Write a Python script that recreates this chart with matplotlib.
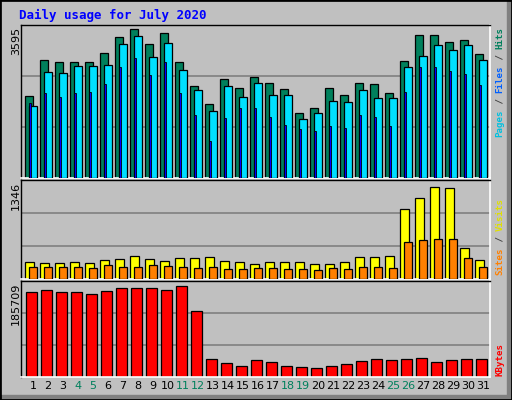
import matplotlib
matplotlib.use("Agg")
import matplotlib.pyplot as plt
from matplotlib.patches import Rectangle
import numpy as np

days = list(range(1, 32))
weekend = [4, 5, 11, 12, 18, 19, 25, 26]
hits = [1921, 2778, 2714, 2730, 2730, 2944, 3302, 3492, 3159, 3397, 2730, 2159, 1730, 2325, 2111,
        2373, 2230, 2087, 1539, 1635, 2111, 1944, 2230, 2206, 1992, 2754, 3349, 3349, 3206, 3254, 2921]
files = [1682, 2492, 2468, 2635, 2635, 2659, 3159, 3325, 2849, 3183, 2540, 2063, 1563, 2159, 1897,
         2230, 1944, 1944, 1397, 1516, 1801, 1777, 2063, 1873, 1873, 2611, 2873, 3135, 3016, 3135, 2778]
pages = [1754, 1992, 1897, 1992, 2016, 2206, 2611, 2825, 2421, 2730, 1992, 1492, 873, 1421, 1635,
         1635, 1444, 1254, 1159, 1111, 1230, 1182, 1492, 1444, 1230, 2016, 2611, 2611, 2516, 2445, 2183]
visits = [240, 227, 227, 240, 227, 268, 281, 322, 281, 254, 295, 295, 309, 254, 240,
          213, 240, 240, 240, 213, 213, 240, 309, 309, 322, 975, 1138, 1288, 1274, 431, 268]
sites = [172, 172, 172, 172, 159, 200, 172, 172, 200, 186, 172, 159, 172, 145, 145,
         159, 159, 145, 145, 132, 159, 145, 172, 172, 159, 512, 553, 567, 567, 295, 172]
kbytes = [166240, 170130, 166240, 166240, 162350, 168190, 174030, 174030, 174030, 170130, 178500,
          129250, 35820, 28030, 22190, 33870, 29980, 22190, 20240, 18300, 22190, 26080, 31920,
          35820, 33870, 35820, 37760, 29980, 33870, 35820, 35820]
max_hits, max_visits, max_kb = 3595, 1346, 185709

W, H = 512, 400
BG = "#C0C0C0"
fig = plt.figure(figsize=(W/100, H/100), dpi=100, facecolor=BG)

def px(x, y, w, h):
    return [x/W, 1-(y+h)/H, w/W, h/H]

fig.patches.append(Rectangle((1/W, 0), 1-2/W, 1-1/H, transform=fig.transFigure, fill=False, ec="white", lw=1.2))
fig.patches.append(Rectangle((0, 0), 1, 5/H, transform=fig.transFigure, color="#808080"))
fig.patches.append(Rectangle((1-5/W, 0), 5/W, 1, transform=fig.transFigure, color="#808080"))
fig.patches.append(Rectangle((0, 0), 1, 1, transform=fig.transFigure, fill=False, ec="black", lw=2))

x = np.array(days, dtype=float)
x0, x1 = 0.463, 0.463 + 469/15

def setup(ax, ymax):
    ax.set_facecolor(BG)
    ax.set_xlim(x0, x1)
    ax.set_ylim(0, ymax)
    ax.set_xticks([]); ax.set_yticks([])
    for y in (ymax/3, 2*ymax/3):
        ax.axhline(y, color="#808080", lw=1.2, zorder=0)
    for s in ("top", "left"):
        ax.spines[s].set_color("black"); ax.spines[s].set_linewidth(1)
    for s in ("bottom", "right"):
        ax.spines[s].set_color("white"); ax.spines[s].set_linewidth(1.2)

ax1 = fig.add_axes(px(21, 25, 469, 153))
setup(ax1, max_hits * 1.0)
ax1.bar(x - 0.27, hits, width=0.55, align="edge", color="#00805C", ec="black", lw=0.9, zorder=2)
ax1.bar(x, files, width=0.55, align="edge", color="#00E0FF", ec="black", lw=0.9, zorder=3)
ax1.bar(x, pages, width=0.15, align="edge", color="#0000FF", ec="black", lw=0.6, zorder=4)

ax2 = fig.add_axes(px(21, 180, 469, 99))
setup(ax2, max_visits * 1.03)
ax2.bar(x - 0.27, visits, width=0.6, align="edge", color="#FFFF00", ec="black", lw=0.9, zorder=2)
ax2.bar(x, sites, width=0.55, align="edge", color="#FF8000", ec="black", lw=0.9, zorder=3)

ax3 = fig.add_axes(px(21, 281, 469, 96))
setup(ax3, max_kb * 1.01)
ax3.bar(x - 0.2, kbytes, width=0.72, align="edge", color="#FF0000", ec="black", lw=0.9, zorder=2)
for d in days:
    ax3.text(d + 0.27, -0.04, str(d), transform=ax3.get_xaxis_transform(), ha="center", va="top",
             fontsize=8, family="DejaVu Sans", color="#00805C" if d in weekend else "black")

mono = "DejaVu Sans Mono"
fig.text(19/W, 1-15/H, "Daily usage for July 2020", color="#0000FF", fontsize=9,
         family=mono, weight="bold", va="center", ha="left")
for label, ytop in (("3595", 27), ("1346", 182), ("185709", 283)):
    fig.text(16/W, 1-ytop/H, label, rotation=90, ha="center", va="top", fontsize=8, family="DejaVu Sans")

FS = 6.6
STEP = FS * 0.602 * 100 / 72

def rlabel(parts, ybottom):
    y = 1 - ybottom/H
    for txt, col in parts:
        fig.text(500/W, y, txt, rotation=90, ha="center", va="bottom", fontsize=FS,
                 family=mono, weight="bold", color=col)
        y += len(txt) * STEP / H

rlabel([("Pages", "#00C0E0"), (" / ", "#404040"), ("Files", "#0060FF"), (" / ", "#404040"), ("Hits", "#00805C")], 137)
rlabel([("Sites", "#FF8000"), (" / ", "#404040"), ("Visits", "#E0E000")], 275)
rlabel([("KBytes", "#FF0000")], 376)

fig.savefig("out.png", dpi=100, facecolor=BG)
